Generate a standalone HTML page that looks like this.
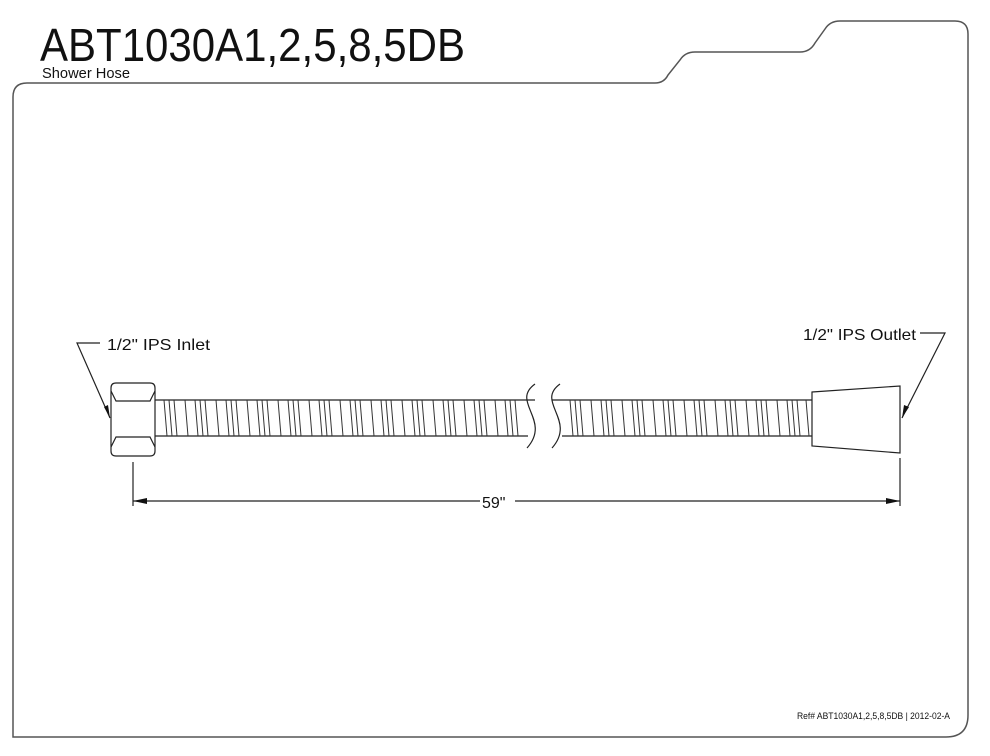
<!DOCTYPE html>
<html><head><style>
body{margin:0;background:#fff;}
svg{display:block;}
text{font-family:"Liberation Sans",sans-serif;fill:#111;}
</style></head><body>
<svg width="990" height="756" viewBox="0 0 990 756" xmlns="http://www.w3.org/2000/svg">
<path d="M13,737 L13,97 Q13,83 27,83 L655,83 Q664,83 668,75 L680,60 Q685,52 695,52 L800,52 Q810,52 815,43 L825,29 Q830,21 840,21 L955,21 Q968,21 968,34 L968,715 Q968,737 946,737 Z" fill="none" stroke="#555" stroke-width="1.5"/>
<text x="40" y="61" font-size="46" textLength="425" lengthAdjust="spacingAndGlyphs">ABT1030A1,2,5,8,5DB</text>
<text x="42" y="78" font-size="15" textLength="88" lengthAdjust="spacingAndGlyphs">Shower Hose</text>
<text x="797" y="719" font-size="9" textLength="153" lengthAdjust="spacingAndGlyphs">Ref# ABT1030A1,2,5,8,5DB | 2012-02-A</text>

<g stroke="#222" stroke-width="1.2" fill="none">
<path d="M116,383 L150,383 Q155,383 155,388 L155,451 Q155,456 150,456 L116,456 Q111,456 111,451 L111,388 Q111,383 116,383 Z"/>
<path d="M111,391 L116,401 L150,401 L155,391 M111,447 L116,437 L150,437 L155,447"/>
<path d="M155,400 L535,400 M155,436 L528,436"/>
<path d="M535,384 C510,402 552,420 527,448"/>
<path d="M560,384 C535,402 577,420 552,448"/>
<path d="M552,400 L812,400 M562,436 L812,436"/>
<path d="M812,392 L900,386 L900,453 L812,446 Z"/>
<path d="M133,462 L133,506 M900,458 L900,506"/>
<path d="M133,501 L480,501 M515,501 L900,501"/>
<path d="M100,343 L77,343 L110,418"/>
<path d="M920,333 L945,333 L902,418"/>
</g>
<g stroke="#333" stroke-width="1">
<path d="M164,400l3,36M174,400l3,36M185,400l3,36M195,400l3,36M205,400l3,36M216,400l3,36M226,400l3,36M236,400l3,36M247,400l3,36M257,400l3,36M267,400l3,36M278,400l3,36M288,400l3,36M298,400l3,36M309,400l3,36M319,400l3,36M329,400l3,36M340,400l3,36M350,400l3,36M360,400l3,36M371,400l3,36M381,400l3,36M391,400l3,36M402,400l3,36M412,400l3,36M422,400l3,36M433,400l3,36M443,400l3,36M453,400l3,36M464,400l3,36M474,400l3,36M484,400l3,36M495,400l3,36M505,400l3,36M515,400l3,36"/>
<path d="M169,400l3,36M200,400l3,36M231,400l3,36M262,400l3,36M293,400l3,36M324,400l3,36M355,400l3,36M386,400l3,36M417,400l3,36M448,400l3,36M479,400l3,36M510,400l3,36"/>
<path d="M570,400l3,36M580,400l3,36M591,400l3,36M601,400l3,36M611,400l3,36M622,400l3,36M632,400l3,36M642,400l3,36M653,400l3,36M663,400l3,36M673,400l3,36M684,400l3,36M694,400l3,36M704,400l3,36M715,400l3,36M725,400l3,36M735,400l3,36M746,400l3,36M756,400l3,36M766,400l3,36M777,400l3,36M787,400l3,36M797,400l3,36M806,400l3,36"/>
<path d="M575,400l3,36M606,400l3,36M637,400l3,36M668,400l3,36M699,400l3,36M730,400l3,36M761,400l3,36M792,400l3,36"/>
</g>
<g fill="#111">
<path d="M133,501 l14,-3 l0,6 Z"/>
<path d="M900,501 l-14,-3 l0,6 Z"/>
<path d="M110,418 l-6,-11 l4,-2 Z"/>
<path d="M902,418 l2,-13 l5,2 Z"/>
</g>
<text x="107" y="350" font-size="16" textLength="103" lengthAdjust="spacingAndGlyphs">1/2" IPS Inlet</text>
<text x="803" y="340" font-size="16" textLength="113" lengthAdjust="spacingAndGlyphs">1/2" IPS Outlet</text>
<text x="482" y="508" font-size="16">59"</text>
</svg>
</body></html>
